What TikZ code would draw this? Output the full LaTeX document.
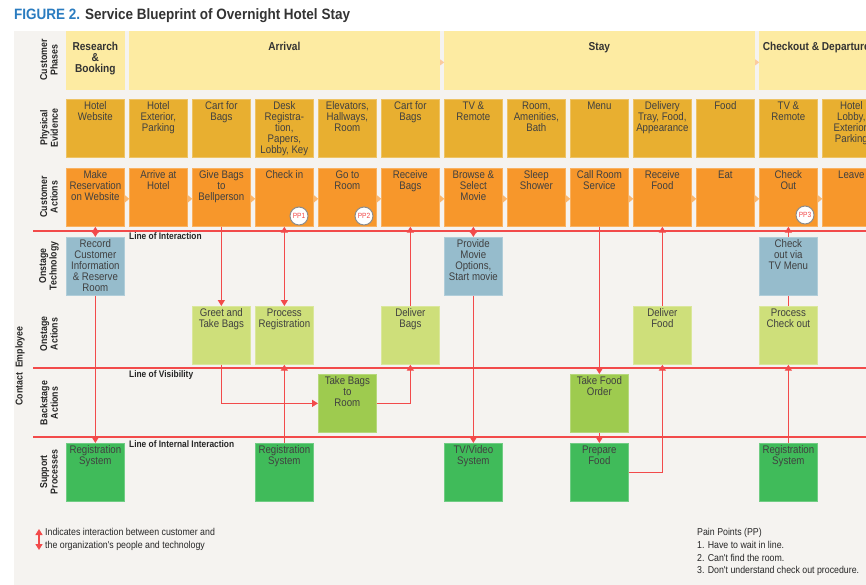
\documentclass[tikz,border=0pt]{standalone}
\usepackage{fontspec}
\setmainfont{Liberation Sans}
\newfontfamily\condfont[FakeStretch=0.88]{Liberation Sans}
\newfontfamily\headfont[FakeStretch=0.9]{Liberation Sans}
\usetikzlibrary{arrows.meta}

\definecolor{panel}{HTML}{F5F3F0}
\definecolor{cPH}{HTML}{FDEBA2}
\definecolor{cPE}{HTML}{E8AF30}
\definecolor{cCA}{HTML}{F7972B}
\definecolor{cOT}{HTML}{96BCCC}
\definecolor{cOA}{HTML}{CEDF7A}
\definecolor{cBA}{HTML}{9ECB4F}
\definecolor{cSP}{HTML}{40BB5A}
\definecolor{redl}{HTML}{F24A4A}
\definecolor{figblue}{HTML}{2A7CC0}
\definecolor{celltxt}{HTML}{404040}
\definecolor{tricol}{HTML}{FBB66C}
\definecolor{phtri}{HTML}{FBCB9E}

% text of a 58x58 cell, set from the top
\newcommand\cx[1]{\parbox[c][58pt][t]{58pt}{\centering\rule{0pt}{10.5pt}#1\par}}
% text of a phase band
\newcommand\px[2]{\parbox[c][58pt][t]{#1pt}{\centering\rule{0pt}{19pt}#2\par}}

\tikzset{
  cellbase/.style={anchor=north west, inner sep=0pt, minimum width=58pt,
    minimum height=58pt, text=celltxt, line width=0.7pt,
    font=\condfont\fontsize{11}{10.8}\selectfont},
  phase/.style={cellbase, fill=cPH, draw=cPH, text=black!80,
    font=\condfont\bfseries\fontsize{11.5}{11}\selectfont},
  evid/.style={cellbase, fill=cPE, draw=cPE!75!white},
  cact/.style={cellbase, fill=cCA, draw=cCA!75!white},
  otech/.style={cellbase, fill=cOT, draw=cOT!75!white},
  oact/.style={cellbase, fill=cOA, draw=cOA!75!white},
  bact/.style={cellbase, fill=cBA, draw=cBA!75!white},
  supp/.style={cellbase, fill=cSP, draw=cSP!75!white},
  rowlab/.style={rotate=90, align=center, inner sep=0pt, text=black!85,
    font=\condfont\bfseries\fontsize{10}{10.5}\selectfont},
  linelab/.style={anchor=base west, inner sep=0pt, text=black!85,
    font=\condfont\bfseries\fontsize{9.5}{10}\selectfont},
  redline/.style={draw=redl, line width=1.4pt},
  flow/.style={draw=redl, line width=1.4pt, >={Triangle[length=6pt,width=7pt]}},
  ppbadge/.style={circle, fill=white, draw=black!45, line width=1pt,
    minimum size=18pt, inner sep=0pt, text=redl,
    font=\condfont\fontsize{7.5}{7.5}\selectfont},
  legtext/.style={anchor=north west, align=left, inner sep=0pt, text=black!85,
    font=\condfont\fontsize{10}{12.8}\selectfont},
  catri/.style={fill=tricol},
  phasetri/.style={fill=phtri}
}

\begin{document}
\begin{tikzpicture}[x=1pt, y=-1pt]
\useasboundingbox (0,0) rectangle (866,585);
\clip (0,0) rectangle (866,585);

% page and panel
\fill[white] (0,0) rectangle (866,585);
\fill[panel] (14,31) rectangle (866,585);

% heading
\node[anchor=base west, inner sep=0pt, text=black!80,
  font=\headfont\bfseries\fontsize{15}{17}\selectfont] (title) at (14,19.5)
  {\textcolor{figblue}{FIGURE 2.} Service Blueprint of Overnight Hotel Stay};

% row labels
\node[rowlab] (lab-ph) at (49,60)  {Customer\\Phases};
\node[rowlab] (lab-pe) at (49,128) {Physical\\Evidence};
\node[rowlab] (lab-ca) at (49,197) {Customer\\Actions};
\node[rowlab] (lab-ot) at (49,266) {Onstage\\Technology};
\node[rowlab] (lab-oa) at (49,334) {Onstage\\Actions};
\node[rowlab] (lab-ba) at (49,403) {Backstage\\Actions};
\node[rowlab] (lab-sp) at (49,472) {Support\\Processes};
\node[rowlab] (lab-ce) at (20,366) {Contact\enspace Employee};

% customer phases
\node[phase] (ph0) at (66,31)  {\px{58}{Research\\\&\\Booking}};
\node[phase] (ph1) at (129,31) {\px{310}{Arrival}};
\node[phase] (ph2) at (444,31) {\px{310}{Stay}};
\node[phase] (ph3) at (759,31) {\parbox[c][58pt][t]{141pt}{\raggedright\hspace*{3.5pt}\rule{0pt}{19pt}Checkout \& Departure\par}};
\fill[phasetri] ([yshift=-2pt]ph1.east) ++(0.5,-3) -- ++(4,3) -- ++(-4,3) -- cycle;
\fill[phasetri] ([yshift=-2pt]ph2.east) ++(0.5,-3) -- ++(4,3) -- ++(-4,3) -- cycle;

% physical evidence
\node[evid] (pe0)  at (66,99)  {\cx{Hotel\\Website}};
\node[evid] (pe1)  at (129,99) {\cx{Hotel\\Exterior,\\Parking}};
\node[evid] (pe2)  at (192,99) {\cx{Cart for\\Bags}};
\node[evid] (pe3)  at (255,99) {\cx{Desk\\Registra-\\tion,\\Papers,\\Lobby, Key}};
\node[evid] (pe4)  at (318,99) {\cx{Elevators,\\Hallways,\\Room}};
\node[evid] (pe5)  at (381,99) {\cx{Cart for\\Bags}};
\node[evid] (pe6)  at (444,99) {\cx{TV \&\\Remote}};
\node[evid] (pe7)  at (507,99) {\cx{Room,\\Amenities,\\Bath}};
\node[evid] (pe8)  at (570,99) {\cx{Menu}};
\node[evid] (pe9)  at (633,99) {\cx{Delivery\\Tray, Food,\\Appearance}};
\node[evid] (pe10) at (696,99) {\cx{Food}};
\node[evid] (pe11) at (759,99) {\cx{TV \&\\Remote}};
\node[evid] (pe12) at (822,99) {\cx{Hotel\\Lobby,\\Exterior,\\Parking}};

% customer actions
\node[cact] (ca0)  at (66,168)  {\cx{Make\\Reservation\\on Website}};
\node[cact] (ca1)  at (129,168) {\cx{Arrive at\\Hotel}};
\node[cact] (ca2)  at (192,168) {\cx{Give Bags\\to\\Bellperson}};
\node[cact] (ca3)  at (255,168) {\cx{Check in}};
\node[cact] (ca4)  at (318,168) {\cx{Go to\\Room}};
\node[cact] (ca5)  at (381,168) {\cx{Receive\\Bags}};
\node[cact] (ca6)  at (444,168) {\cx{Browse \&\\Select\\Movie}};
\node[cact] (ca7)  at (507,168) {\cx{Sleep\\Shower}};
\node[cact] (ca8)  at (570,168) {\cx{Call Room\\Service}};
\node[cact] (ca9)  at (633,168) {\cx{Receive\\Food}};
\node[cact] (ca10) at (696,168) {\cx{Eat}};
\node[cact] (ca11) at (759,168) {\cx{Check\\Out}};
\node[cact] (ca12) at (822,168) {\cx{Leave}};
\foreach \i in {0,...,11}
  \fill[catri] ([yshift=-1.5pt]ca\i.east) ++(0.5,-3.5) -- ++(4,3.5) -- ++(-4,3.5) -- cycle;

% pain points
\node[ppbadge] (pp1) at (299,216) {PP1};
\node[ppbadge] (pp2) at (364,216) {PP2};
\node[ppbadge] (pp3) at (805,215) {PP3};

% onstage technology
\node[otech] (ot0)  at (66,237)  {\cx{Record\\Customer\\Information\\\& Reserve\\Room}};
\node[otech] (ot6)  at (444,237) {\cx{Provide\\Movie\\Options,\\Start movie}};
\node[otech] (ot11) at (759,237) {\cx{Check\\out via\\TV Menu}};

% onstage actions
\node[oact] (oa2)  at (192,306) {\cx{Greet and\\Take Bags}};
\node[oact] (oa3)  at (255,306) {\cx{Process\\Registration}};
\node[oact] (oa5)  at (381,306) {\cx{Deliver\\Bags}};
\node[oact] (oa9)  at (633,306) {\cx{Deliver\\Food}};
\node[oact] (oa11) at (759,306) {\cx{Process\\Check out}};

% backstage actions
\node[bact] (ba4) at (318,374) {\cx{Take Bags\\to\\Room}};
\node[bact] (ba8) at (570,374) {\cx{Take Food\\Order}};

% support processes
\node[supp] (sp0)  at (66,443)  {\cx{Registration\\System}};
\node[supp] (sp3)  at (255,443) {\cx{Registration\\System}};
\node[supp] (sp6)  at (444,443) {\cx{TV/Video\\System}};
\node[supp] (sp8)  at (570,443) {\cx{Prepare\\Food}};
\node[supp] (sp11) at (759,443) {\cx{Registration\\System}};

% the three lines
\coordinate (loiL) at (33,231);  \coordinate (loiR) at (866,231);
\coordinate (lovL) at (33,368);  \coordinate (lovR) at (866,368);
\coordinate (liiL) at (33,437);  \coordinate (liiR) at (866,437);
\draw[redline] (loiL) -- (loiR);
\draw[redline] (lovL) -- (lovR);
\draw[redline] (liiL) -- (liiR);
\node[linelab] (loi) at (129,240) {Line of Interaction};
\node[linelab] (lov) at (129,377) {Line of Visibility};
\node[linelab] (lii) at (129,447) {Line of Internal Interaction};

% flows
\draw[flow,<->] (ca0.south) -- (ot0.north);
\draw[flow,->]  (ot0.south) -- (sp0.north);
\draw[flow,->]  (ca2.south) -- (oa2.north);
\draw[flow,->]  (oa2.south) |- (ba4.west);
\draw[flow,<->] (ca3.south) -- (oa3.north);
\draw[flow,->]  (sp3.north) -- (oa3.south);
\draw[flow,->]  (oa5.north) -- (ca5.south);
\draw[flow,->]  (ba4.east) -| (oa5.south);
\draw[flow,<->] (ca6.south) -- (ot6.north);
\draw[flow,->]  (ot6.south) -- (sp6.north);
\draw[flow,->]  (ca8.south) -- (ba8.north);
\draw[flow,->]  (ba8.south) -- (sp8.north);
\draw[flow,->]  (oa9.north) -- (ca9.south);
\draw[flow,->]  (sp8.east) -| (oa9.south);
\draw[flow,->]  (ot11.north) -- (ca11.south);
\draw[flow]     (ot11.south) -- (oa11.north);
\draw[flow,->]  (sp11.north) -- (oa11.south);

% key
\coordinate (legT) at (39,529);
\coordinate (legB) at (39,550);
\draw[flow,<->] (legT) -- (legB);
\node[legtext] (legend) at (45,528.5)
  {Indicates interaction between customer and\\the organization's people and technology};
\node[legtext] (pains) at (697,528)
  {Pain Points (PP)\\1. Have to wait in line.\\2. Can't find the room.\\3. Don't understand check out procedure.};
\end{tikzpicture}
\end{document}
